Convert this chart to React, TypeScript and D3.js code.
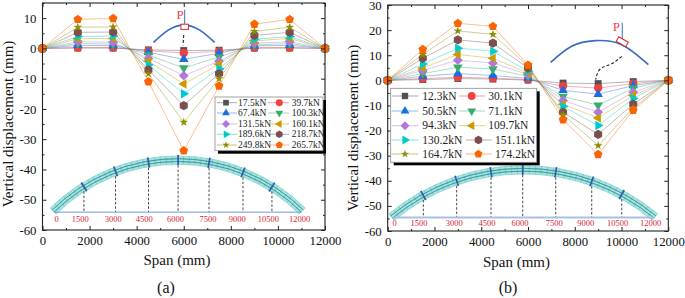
import React, { useRef, useEffect } from "react";
import * as d3 from "d3";

const stations = [0, 1500, 3000, 4500, 6000, 7500, 9000, 10500, 12000];
const archLabels = ["0", "1500", "3000", "4500", "6000", "7500", "9000", "10500", "12000"];

// panel (a)
const loadsA = ["17.5kN", "39.7kN", "67.4kN", "100.3kN", "131.5kN", "160.1kN", "189.6kN", "218.7kN", "249.8kN", "265.7kN"];
const valuesA = [
  [0, 0.1, 0.1, -0.5, -0.7, -0.6, 0.1, 0.1, 0],
  [0, 0.3, 0.3, -0.8, -1.5, -1, 0.2, 0.3, 0],
  [0, 1, 0.9, -1.3, -3.6, -1.6, 0.8, 1, 0],
  [0, 1.6, 1.4, -2.2, -6.5, -2.8, 1.1, 1.6, 0],
  [0, 2.2, 2, -3.3, -9, -4.2, 1.7, 2.2, 0],
  [0, 3.2, 3.3, -4.2, -11.8, -5.2, 2.5, 3.3, 0],
  [0, 3.9, 4.1, -5.5, -15, -6.7, 3, 3.9, 0],
  [0, 5.3, 5.4, -7.1, -18.9, -8.3, 4.3, 5.3, 0],
  [0, 7, 7.1, -8.4, -24.4, -10, 5.6, 7, 0],
  [0, 9.6, 9.9, -11, -33.8, -12.4, 8, 9.6, 0],
];
const yTicksA = [10, 0, -10, -20, -30, -40, -50, -60];
const archLabelSpanA = [601, 1604, 3003, 4318, 5648, 7032, 8277, 9593, 10920];
const archDashSpanA = [1760, 3103, 4503, 5760, 7074, 8516, 9746];
const sketchArchA: [number, number][] = [[4714, 1.97], [5340, 6.04], [6000, 7.69], [6680, 6.04], [7313, 1.97]];
const sketchDashA: [number, number][] = [[6000, 4.4], [5970, 1]];

// panel (b)
const loadsB = ["12.3kN", "30.1kN", "50.5kN", "71.1kN", "94.3kN", "109.7kN", "130.2kN", "151.1kN", "164.7kN", "174.2kN"];
const valuesB = [
  [0, 0.3, 0.7, 0.5, 0.1, -1.1, -1.3, -0.5, 0],
  [0, 0.7, 1.2, 0.9, 0.3, -2.3, -3.1, -1.3, 0],
  [0, 1.6, 2.7, 1.9, 0.8, -4, -5.5, -2.1, 0],
  [0, 2.7, 5.2, 4.5, 1.6, -6.4, -9.9, -3.1, 0],
  [0, 4, 8, 6.9, 2.3, -8, -12.7, -4.7, 0],
  [0, 4.9, 10.3, 8.8, 2.9, -9.5, -15, -6, 0],
  [0, 6.5, 12.8, 11.6, 3.6, -10.4, -18, -7.2, 0],
  [0, 8.8, 16.1, 14.8, 4.9, -12.7, -21.5, -9.5, 0],
  [0, 10.3, 19.7, 18.3, 5.6, -13.7, -26, -11, 0],
  [0, 12.3, 22.7, 21.5, 6.1, -15.7, -29.5, -11.9, 0],
];
const yTicksB = [30, 20, 10, 0, -10, -20, -30, -40, -50, -60];
const archLabelSpanB = [299, 1339, 2849, 4247, 5659, 7127, 8468, 9837, 11249];
const archDashSpanB = [1523, 2950, 4419, 5774, 7185, 8725, 10008];
const sketchArchB: [number, number][] = [[6970, 7.18], [7868, 13.56], [8866, 15.8], [10007, 14.2], [11148, 6.25]];
const sketchDashB: [number, number][] = [[10007, 9.57], [9580, 6.65], [9152, 4.93], [8965, 2.67], [8894, 0.28]];

const xTicks = [0, 2000, 4000, 6000, 8000, 10000, 12000];

const colors = ["#515151", "#F14040", "#1A6FDF", "#37AD6B", "#B177DE", "#CC9900", "#00CBCC", "#7D4E4E", "#8E8E00", "#FB6501"];

const polygon = (n: number) => ({
  draw(ctx: any, size: number) {
    const r = Math.sqrt((size * 2) / (n * Math.sin((2 * Math.PI) / n)));
    for (let i = 0; i < n; i++) {
      const a = (2 * Math.PI * i) / n;
      const px = r * Math.sin(a);
      const py = -r * Math.cos(a);
      if (i === 0) ctx.moveTo(px, py);
      else ctx.lineTo(px, py);
    }
    ctx.closePath();
  },
});

const symbols = [
  { type: d3.symbolSquare, rotate: 0, k: 0.85 },
  { type: d3.symbolCircle, rotate: 0, k: 1 },
  { type: d3.symbolTriangle, rotate: 0, k: 0.7 },
  { type: d3.symbolTriangle, rotate: 180, k: 0.7 },
  { type: d3.symbolSquare, rotate: 45, k: 0.85 },
  { type: d3.symbolTriangle, rotate: -90, k: 0.7 },
  { type: d3.symbolTriangle, rotate: 90, k: 0.7 },
  { type: polygon(6), rotate: 0, k: 1 },
  { type: d3.symbolStar, rotate: 0, k: 0.42 },
  { type: polygon(5), rotate: 0, k: 0.9 },
];

const serif = "'Liberation Serif', serif";

const drawMarker = (g: any, i: number, x: number, y: number, size: number) => {
  const s = symbols[i];
  g.append("path")
    .attr("d", d3.symbol().type(s.type as any).size(size * s.k)())
    .attr("transform", `translate(${x},${y}) rotate(${s.rotate})`)
    .attr("fill", colors[i]);
};

const drawPanel = (svg: any, p: any) => {
  const x = d3.scaleLinear().domain([0, 12000]).range([p.left, p.right]);
  const y = d3.scaleLinear().domain(p.yDomain).range([p.bottom, p.top]);
  const g = svg.append("g");

  // arch drawing at the bottom of the plot
  const x0 = x(p.arch.from), x1 = x(p.arch.to);
  const yEnd = y(p.arch.endY), yApex = y(p.arch.apexY), yBase = y(p.arch.baseY);
  const half = (x1 - x0) / 2;
  const sag = yEnd - yApex;
  const R = (half * half + sag * sag) / (2 * sag);
  const cx = (x0 + x1) / 2;
  const cy = yApex + R;
  const a0 = Math.asin(half / R);
  const band = 4.2;
  const arch = g.append("g").attr("transform", `translate(${cx},${cy})`);
  const arc = d3.arc().startAngle(-a0).endAngle(a0);
  arch.append("path")
    .attr("d", arc({ innerRadius: R - band, outerRadius: R + band } as any))
    .attr("fill", "#a9e4e2")
    .attr("stroke", "#6fcac8")
    .attr("stroke-width", 0.6);
  d3.range(-a0, a0, (a0 * 2) / 48).forEach((a) => {
    const [ax, ay] = d3.pointRadial(a, R - band);
    const [bx, by] = d3.pointRadial(a, R + band);
    arch.append("line")
      .attr("x1", ax).attr("y1", ay).attr("x2", bx).attr("y2", by)
      .attr("stroke", "#4fb8b6").attr("stroke-width", 0.5);
  });
  [-1.4, 1.4].forEach((d) => {
    arch.append("path")
      .attr("d", d3.arc().startAngle(-a0).endAngle(a0)({ innerRadius: R + d, outerRadius: R + d } as any))
      .attr("fill", "none")
      .attr("stroke", "#2f8f90")
      .attr("stroke-width", 0.6);
  });
  p.archDash.forEach((span: number) => {
    const px = x(span);
    const a = Math.asin((px - cx) / R);
    const [ax, ay] = d3.pointRadial(a, R - band - 1);
    const [bx, by] = d3.pointRadial(a, R + band + 1);
    g.append("line")
      .attr("x1", px).attr("x2", px).attr("y1", cy + ay).attr("y2", yBase)
      .attr("stroke", "#333").attr("stroke-width", 0.9).attr("stroke-dasharray", "2.5,1.8");
    g.append("line")
      .attr("x1", cx + ax).attr("y1", cy + ay).attr("x2", cx + bx).attr("y2", cy + by)
      .attr("stroke", "#2b5ca8").attr("stroke-width", 1.7);
  });
  g.append("line")
    .attr("x1", x(p.arch.from + 60)).attr("x2", x(p.arch.to - 60))
    .attr("y1", yBase).attr("y2", yBase)
    .attr("stroke", p.baseColor).attr("stroke-width", p.baseWidth);
  p.archLabelSpan.forEach((span: number, i: number) => {
    g.append("text")
      .attr("x", x(span)).attr("y", yBase + p.archLabelDy)
      .attr("text-anchor", "middle")
      .attr("font-family", serif).attr("font-size", p.archFont)
      .attr("fill", "#d81e38")
      .text(archLabels[i]);
  });

  // small load sketch
  const sketch = d3.line().x((d: any) => x(d[0])).y((d: any) => y(d[1])).curve(d3.curveNatural);
  g.append("path").attr("d", sketch(p.sketchArch))
    .attr("fill", "none").attr("stroke", "#3a6cc0").attr("stroke-width", 1.7);
  g.append("path").attr("d", sketch(p.sketchDash))
    .attr("fill", "none").attr("stroke", "#222").attr("stroke-width", 1.1).attr("stroke-dasharray", "3,2");
  const load = p.load;
  g.append("line")
    .attr("x1", x(load.x)).attr("x2", x(load.x)).attr("y1", y(load.y0)).attr("y2", y(load.y1))
    .attr("stroke", "#3a6cc0").attr("stroke-width", 1);
  g.append("rect")
    .attr("x", -load.w / 2).attr("y", -2.6).attr("width", load.w).attr("height", 5.2)
    .attr("transform", `translate(${x(load.x)},${y(load.y1) + 2.6}) rotate(${load.rot})`)
    .attr("fill", "#fff").attr("stroke", "#d42a2a").attr("stroke-width", 1);
  g.append("text")
    .attr("x", x(load.x) + load.textDx).attr("y", y(load.y1) + load.textDy)
    .attr("font-family", serif).attr("font-size", 13).attr("fill", "#f03c4a")
    .text("P");

  // series, later loads sit on top
  const line = d3.line().x((_: any, i: number) => x(stations[i])).y((d: any) => y(d));
  p.values.forEach((vals: number[], i: number) => {
    const s = g.append("g");
    s.append("path").attr("d", line(vals as any))
      .attr("fill", "none").attr("stroke", colors[i]).attr("stroke-width", 1).attr("stroke-opacity", 0.42);
    vals.forEach((v, j) => drawMarker(s, i, x(stations[j]), y(v), p.markerSize));
  });

  // spines and ticks
  const yMinor = d3.range(p.yDomain[0], p.yDomain[1] + 1, 5).filter((v: number) => v % 10 !== 0);
  const xMinor = d3.range(1000, 12000, 2000);
  const axes = [
    { axis: d3.axisBottom(x), at: `translate(0,${p.bottom})`, t: xTicks, m: xMinor, labels: true },
    { axis: d3.axisTop(x), at: `translate(0,${p.top})`, t: xTicks, m: xMinor, labels: false },
    { axis: d3.axisLeft(y), at: `translate(${p.left},0)`, t: p.yTicks, m: yMinor, labels: true },
    { axis: d3.axisRight(y), at: `translate(${p.right},0)`, t: p.yTicks, m: yMinor, labels: false },
  ];
  axes.forEach((a) => {
    const major = g.append("g").attr("transform", a.at);
    major.call(a.axis.tickValues(a.t).tickSize(-4).tickPadding(6)
      .tickFormat((d: any) => (a.labels ? String(d) : "")) as any);
    const minor = g.append("g").attr("transform", a.at);
    minor.call(a.axis.tickValues(a.m).tickSize(-2).tickFormat(() => "") as any);
    [major, minor].forEach((s) => {
      s.select(".domain").remove();
      s.selectAll("line").attr("stroke", "#222").attr("stroke-width", 1);
    });
    major.selectAll("text").attr("font-family", serif).attr("font-size", 12.8).attr("fill", "#111");
  });
  g.append("rect")
    .attr("x", p.left).attr("y", p.top)
    .attr("width", p.right - p.left).attr("height", p.bottom - p.top)
    .attr("fill", "none").attr("stroke", "#222").attr("stroke-width", 1.1);

  // axis titles
  g.append("text")
    .attr("transform", `translate(${p.yTitleX},${p.yTitleY}) rotate(-90)`)
    .attr("text-anchor", "middle")
    .attr("font-family", serif).attr("font-size", 15).attr("fill", "#111")
    .text("Vertical displacement (mm)");
  g.append("text")
    .attr("x", p.xTitleX).attr("y", p.xTitleY)
    .attr("text-anchor", "middle")
    .attr("font-family", serif).attr("font-size", 15).attr("fill", "#111")
    .text("Span (mm)");
  g.append("text")
    .attr("x", p.captionX).attr("y", 293)
    .attr("text-anchor", "middle")
    .attr("font-family", serif).attr("font-size", 16).attr("fill", "#111")
    .text(p.caption);

  // legend
  const lg = p.legend;
  const legend = g.append("g");
  legend.append("rect")
    .attr("x", lg.x0 + 3).attr("y", lg.y0 + 3)
    .attr("width", lg.x1 - lg.x0).attr("height", lg.y1 - lg.y0)
    .attr("fill", "#000");
  legend.append("rect")
    .attr("x", lg.x0).attr("y", lg.y0)
    .attr("width", lg.x1 - lg.x0).attr("height", lg.y1 - lg.y0)
    .attr("fill", "#fff").attr("stroke", "#8a8a8a").attr("stroke-width", 0.8);
  p.loads.forEach((label: string, i: number) => {
    const row = Math.floor(i / 2);
    const col = i % 2 === 0 ? lg.col1 : lg.col2;
    const dx = i % 2 === 0 ? 0 : lg.col2Shift[row];
    const ry = lg.rows[row];
    legend.append("line")
      .attr("x1", col.line0 + dx).attr("x2", col.line1 + dx).attr("y1", ry).attr("y2", ry)
      .attr("stroke", colors[i]).attr("stroke-width", 1).attr("stroke-opacity", 0.5);
    drawMarker(legend, i, col.marker + dx, ry, lg.markerSize);
    legend.append("text")
      .attr("x", col.text + dx).attr("y", ry)
      .attr("dy", "0.33em")
      .attr("font-family", serif).attr("font-size", lg.font).attr("fill", "#222")
      .text(label);
  });
};

const panelA = {
  left: 42.5, right: 325, top: 3, bottom: 230,
  yDomain: [-60, 15], yTicks: yTicksA, values: valuesA, loads: loadsA,
  markerSize: 56, yTitleX: 13, yTitleY: 124, xTitleX: 177, xTitleY: 265, captionX: 166, caption: "(a)",
  arch: { from: 458, to: 11035, endY: -53.7, apexY: -36.9, baseY: -54.1 },
  baseColor: "#6a9bdc", baseWidth: 1, archLabelSpan: archLabelSpanA, archDash: archDashSpanA,
  archLabelDy: 9.5, archFont: 8.5,
  sketchArch: sketchArchA, sketchDash: sketchDashA,
  load: { x: 6040, y0: 12.8, y1: 8, rot: 0, w: 7.5, textDx: -8.2, textDy: -4.7 },
  legend: {
    x0: 215, x1: 323, y0: 97, y1: 150.7, rows: [102.7, 113, 124, 134.3, 145],
    col1: { line0: 217, line1: 237, marker: 226, text: 238 },
    col2: { line0: 268, line1: 289, marker: 279.3, text: 291.7 },
    col2Shift: [0, 0, 0, 0, 0], markerSize: 38, font: 9.5,
  },
};

const panelB = {
  left: 387.7, right: 668.3, top: 5, bottom: 231,
  yDomain: [-60, 30], yTicks: yTicksB, values: valuesB, loads: loadsB,
  markerSize: 56, yTitleX: 358, yTitleY: 128, xTitleX: 516.5, xTitleY: 267, captionX: 508, caption: "(b)",
  arch: { from: 171, to: 11432, endY: -54.4, apexY: -35.6, baseY: -54.6 },
  baseColor: "#a9c0e6", baseWidth: 2, archLabelSpan: archLabelSpanB, archDash: archDashSpanB,
  archLabelDy: 9, archFont: 8.5,
  sketchArch: sketchArchB, sketchDash: sketchDashB,
  load: { x: 10030, y0: 22.9, y1: 16.4, rot: 30, w: 11, textDx: -9.5, textDy: -8.5 },
  legend: {
    x0: 390.7, x1: 536.7, y0: 88.3, y1: 162.3, rows: [96, 111, 125.7, 140, 154],
    col1: { line0: 391.7, line1: 418.3, marker: 405, text: 422.3 },
    col2: { line0: 459.3, line1: 485, marker: 471.7, text: 488.3 },
    col2Shift: [0, 0, 0, 6.7, 6.7], markerSize: 48, font: 11.5,
  },
};

export default function App() {
  const svgRef = useRef<SVGSVGElement>(null);
  useEffect(() => {
    const svg = d3.select(svgRef.current);
    svg.selectAll("*").remove();
    drawPanel(svg, panelA);
    drawPanel(svg, panelB);
  }, []);
  return (
    <svg
      ref={svgRef}
      width={685}
      height={298}
      style={{ position: "absolute", left: 0, top: 0, display: "block", background: "#fff" }}
    />
  );
}
